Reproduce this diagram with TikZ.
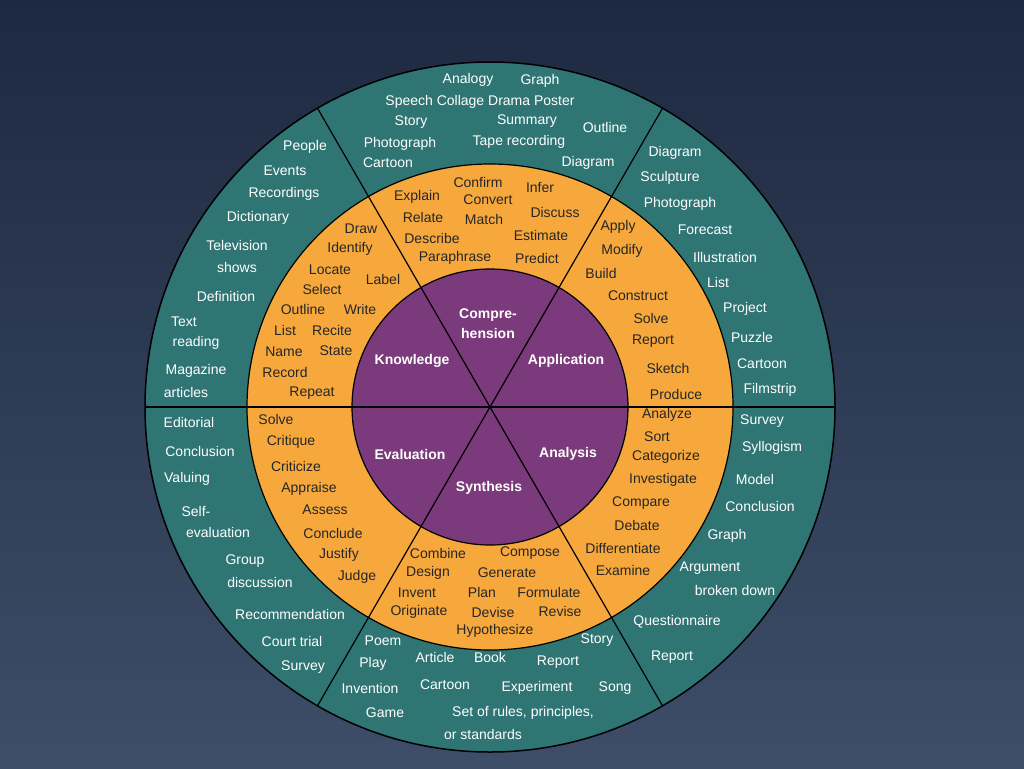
\documentclass[tikz,border=0pt]{standalone}
\usepackage{fontspec}
\setmainfont{Liberation Sans}
\usetikzlibrary{calc}
\definecolor{bgtop}{HTML}{1D2940}
\definecolor{bgbot}{HTML}{3E4D68}
\definecolor{ringout}{HTML}{2E7573}
\definecolor{ringmid}{HTML}{F6A83C}
\definecolor{ringin}{HTML}{7B3A7B}
\def\cx{490}
\def\cy{407}

\begin{document}
\begin{tikzpicture}[x=1pt,y=-1pt,
word/.style={text=white, font=\fontsize{14}{14}\selectfont, inner sep=0pt},
core/.style={text=white, font=\fontsize{14}{14}\selectfont\bfseries, inner sep=0pt, align=center},
]

% Background:
\shade[top color=bgtop, bottom color=bgbot] (0,0) rectangle (1024,768);
\useasboundingbox (0,0) rectangle (1024,768);

\coordinate (o) at (\cx,\cy);

% Rings:
\draw[fill=ringout, line width=1.5pt] (o) circle (345);
\draw[fill=ringmid, line width=1.2pt] (o) circle (243);
\draw[fill=ringin, line width=1.2pt] (o) circle (138);

% Spokes:
\foreach \a in {0,60,120} {
  \draw[line width=1.2pt] ($(o)+(\a:345)$) -- ($(o)+(\a+180:345)$);
}

% Outer ring:
\foreach \t/\x/\y [count=\i] in {
Analogy/468/80, Graph/540/81, Speech Collage Drama Poster/480/102,
Story/411/122, Summary/527/121, Outline/605/127, Photograph/400/144,
Tape recording/519/142, Cartoon/388/163, Diagram/588/163,
People/305/147, Events/285/171, Recordings/284/194, Dictionary/258/218,
Television/237/245, shows/237/267, Definition/226/296, Text/184/322,
reading/196/343, Magazine/196/371, articles/186/392,
Diagram/675/153, Sculpture/670/178, Photograph/680/204, Forecast/705/230,
Illustration/725/257, List/718/282, Project/745/309, Puzzle/752/337,
Cartoon/762/364, Filmstrip/770/390,
Survey/762/421, Syllogism/772/448, Model/755/479, Conclusion/760/506,
Graph/727/536, Argument/710/568, broken down/735/590,
Questionnaire/677/622, Report/672/657,
Poem/383/641, Story/597/640, Play/373/664, Article/435/657, Book/490/657,
Report/558/662, Invention/370/688, Cartoon/445/685, Experiment/537/688,
Song/615/688, Game/385/713, {Set of rules,  principles,}/523/713,
or standards/483/734,
Editorial/189/422, Conclusion/200/451, Valuing/187/479, Self-/196/511,
evaluation/218/532, Group/245/561, discussion/260/582,
Recommendation/290/614, Court trial/292/641, Survey/303/667} {
  \node[word] (out\i) at (\x,\y) {\t};
}

% Middle ring:
\foreach \t/\x/\y [count=\i] in {
Confirm/478/182, Infer/540/188, Explain/417/197, Convert/488/200,
Discuss/555/212, Relate/423/217, Match/484/219, Describe/432/238,
Estimate/541/235, Paraphrase/455/258, Predict/537/258,
Draw/361/229, Identify/350/249, Locate/330/270, Label/383/279,
Select/322/289, Outline/303/309, Write/360/309, List/285/330,
Recite/332/330, Name/284/352, State/336/351, Record/285/372, Repeat/312/393,
Apply/618/227, Modify/622/251, Build/601/273, Construct/638/296,
Solve/651/318, Report/653/341, Sketch/668/368, Produce/676/394,
Analyze/667/415, Sort/657/437, Categorize/666/457, Investigate/663/480,
Compare/641/503, Debate/637/525, Differentiate/623/548, Examine/623/570,
Combine/438/553, Compose/530/553, Design/428/573, Generate/507/573,
Invent/417/593, Plan/482/592, Formulate/549/592, Originate/419/612,
Devise/493/612, Revise/560/611, Hypothesize/495/631,
Solve/276/419, Critique/291/442, Criticize/296/466, Appraise/309/489,
Assess/325/510, Conclude/333/533, Justify/339/555, Judge/357/577} {
  \node[word, text=black!85] (mid\i) at (\x,\y) {\t};
}

% Core:
\node[core] (know) at (412,361) {Knowledge};
\node[core] (comp) at (488,324) {Compre-\\[6pt]hension};
\node[core] (appl) at (566,361) {Application};
\node[core] (eval) at (410,454) {Evaluation};
\node[core] (anal) at (568,454) {Analysis};
\node[core] (synt) at (489,488) {Synthesis};
\end{tikzpicture}
\end{document}
